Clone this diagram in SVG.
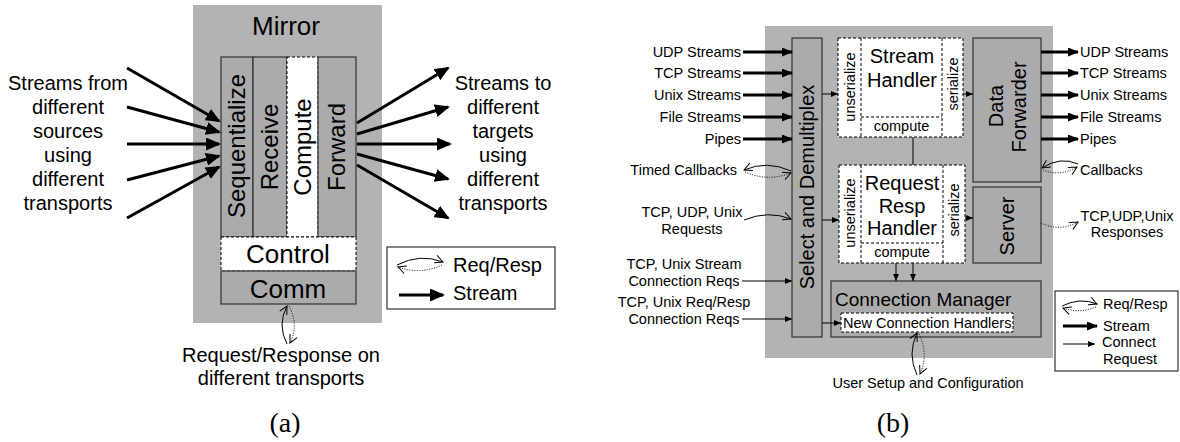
<svg xmlns="http://www.w3.org/2000/svg" width="1180" height="442" viewBox="0 0 1180 442">
<style>
.t{font-family:"Liberation Sans",Arial,sans-serif;fill:#000}
.s20{font-size:20px}.s26{font-size:26px}.s24{font-size:24px}.s14{font-size:14.5px}.s19{font-size:19px}
.m{text-anchor:middle}.e{text-anchor:end}
.cap{font-family:"Liberation Serif","Times New Roman",serif;font-size:28px;text-anchor:middle}
.bg{fill:#b3b3b3}
.box{fill:#ababab;stroke:#333;stroke-width:1.2}
.dbox{fill:#fff;stroke:#000;stroke-width:1;stroke-dasharray:3 2}
.lg{fill:#fff;stroke:#333;stroke-width:1.2}
.thick{stroke:#000;stroke-width:3;fill:none}
.thin{stroke:#000;stroke-width:1;fill:none}
.dot{stroke:#000;stroke-width:1;stroke-dasharray:1 1.5;fill:none}
</style>
<defs>
<marker id="hA" markerUnits="userSpaceOnUse" markerWidth="15" markerHeight="13" viewBox="0 0 15 13" refX="13" refY="6.5" orient="auto"><path d="M0,0 L15,6.5 L0,13 z"/></marker>
<marker id="hB" markerUnits="userSpaceOnUse" markerWidth="11" markerHeight="9" viewBox="0 0 11 9" refX="10" refY="4.5" orient="auto"><path d="M0,0 L11,4.5 L0,9 z"/></marker>
<marker id="hC" markerUnits="userSpaceOnUse" markerWidth="7" markerHeight="6" viewBox="0 0 7 6" refX="7" refY="3" orient="auto"><path d="M0,0 L7,3 L0,6 z"/></marker>
<marker id="hO" markerUnits="userSpaceOnUse" markerWidth="9" markerHeight="8" viewBox="0 0 9 8" refX="8" refY="4" orient="auto" overflow="visible"><path d="M0,0 L8,4 L0,8" fill="none" stroke="#000" stroke-width="1"/></marker>
</defs>
<rect width="1180" height="442" fill="#fff"/>

<!-- ============ (a) ============ -->
<g id="mirror">
<rect class="bg" x="193" y="5" width="189" height="318"/>
<text class="t s26 m" x="286" y="35">Mirror</text>
</g>
<g id="sequentialize">
<rect class="box" x="221" y="57" width="32" height="180"/>
<text class="t s24 m" x="237" y="146" dy="0.35em" transform="rotate(-90 237 146)">Sequentialize</text>
</g>
<g id="receive">
<rect class="box" x="253" y="57" width="34" height="180"/>
<text class="t s24 m" x="270" y="147" dy="0.35em" transform="rotate(-90 270 147)">Receive</text>
</g>
<g id="compute">
<rect class="dbox" x="287" y="57" width="31" height="180"/>
<text class="t s24 m" x="302.5" y="147" dy="0.35em" transform="rotate(-90 302.5 147)">Compute</text>
</g>
<g id="forward">
<rect class="box" x="318" y="57" width="38" height="180"/>
<text class="t s24 m" x="337" y="147" dy="0.35em" transform="rotate(-90 337 147)">Forward</text>
</g>
<g id="control">
<rect class="dbox" x="221" y="237" width="135" height="34"/>
<text class="t s26 m" x="288" y="263">Control</text>
</g>
<g id="comm">
<rect class="box" x="221" y="271" width="135" height="33"/>
<text class="t s26 m" x="288" y="298">Comm</text>
</g>
<g id="src-label">
<text class="t s20 m" x="68" y="90">Streams from</text>
<text class="t s20 m" x="68" y="114">different</text>
<text class="t s20 m" x="68" y="138">sources</text>
<text class="t s20 m" x="68" y="162">using</text>
<text class="t s20 m" x="68" y="186">different</text>
<text class="t s20 m" x="68" y="210">transports</text>
</g>
<g id="dst-label">
<text class="t s20 m" x="503" y="90">Streams to</text>
<text class="t s20 m" x="503" y="114">different</text>
<text class="t s20 m" x="503" y="138">targets</text>
<text class="t s20 m" x="503" y="162">using</text>
<text class="t s20 m" x="503" y="186">different</text>
<text class="t s20 m" x="503" y="210">transports</text>
</g>
<g id="rr-label-a">
<text class="t s20 m" x="281" y="362">Request/Response on</text>
<text class="t s20 m" x="281" y="385">different transports</text>
</g>
<g id="legend-a">
<rect class="lg" x="387" y="247" width="168" height="62"/>
<path class="thin" d="M397,265 Q420,253 443,262" marker-end="url(#hO)"/>
<path class="dot" d="M442,265 Q420,275 398,267" marker-end="url(#hO)"/>
<text class="t s20" x="453" y="272">Req/Resp</text>
<line class="thick" x1="399" y1="295" x2="443" y2="295" marker-end="url(#hA)"/>
<text class="t s20" x="453" y="300">Stream</text>
</g>
<text class="cap" x="285" y="432">(a)</text>

<!-- ============ (b) ============ -->
<rect class="bg" x="765" y="26" width="288" height="332"/>
<g id="select-demux">
<rect class="box" x="792" y="38" width="30" height="299"/>
<text class="t s20 m" x="807" y="187" dy="0.35em" transform="rotate(-90 807 187)">Select and Demultiplex</text>
</g>
<g id="stream-handler">
<rect class="dbox" x="838" y="38" width="125" height="99"/>
<line class="thin" x1="861" y1="38" x2="861" y2="137" stroke-dasharray="3 2"/>
<line class="thin" x1="942" y1="38" x2="942" y2="137" stroke-dasharray="3 2"/>
<line class="thin" x1="861" y1="117" x2="942" y2="117" stroke-dasharray="3 2"/>
<text class="t s20 m" x="902" y="63">Stream</text>
<text class="t s20 m" x="902" y="87">Handler</text>
<text class="t s14 m" x="850" y="87" dy="0.35em" transform="rotate(-90 850 87)">unserialize</text>
<text class="t s14 m" x="952.5" y="84" dy="0.35em" transform="rotate(-90 952.5 84)">serialize</text>
<text class="t s14 m" x="901.5" y="131">compute</text>
</g>
<g id="reqresp-handler">
<rect class="dbox" x="839" y="165" width="126" height="98"/>
<line class="thin" x1="861" y1="165" x2="861" y2="263" stroke-dasharray="3 2"/>
<line class="thin" x1="943" y1="165" x2="943" y2="263" stroke-dasharray="3 2"/>
<line class="thin" x1="861" y1="243" x2="943" y2="243" stroke-dasharray="3 2"/>
<text class="t s20 m" x="902" y="190">Request</text>
<text class="t s20 m" x="902" y="213">Resp</text>
<text class="t s20 m" x="902" y="235">Handler</text>
<text class="t s14 m" x="850" y="213" dy="0.35em" transform="rotate(-90 850 213)">unserialize</text>
<text class="t s14 m" x="954" y="210" dy="0.35em" transform="rotate(-90 954 210)">serialize</text>
<text class="t s14 m" x="902" y="257">compute</text>
</g>
<g id="data-forwarder">
<rect class="box" x="973" y="38" width="68" height="144"/>
<text class="t s20 m" x="996" y="106" dy="0.35em" transform="rotate(-90 996 106)">Data</text>
<text class="t s20 m" x="1019" y="107" dy="0.35em" transform="rotate(-90 1019 107)">Forwarder</text>
</g>
<g id="server">
<rect class="box" x="973" y="187" width="68" height="76"/>
<text class="t s20 m" x="1007" y="226" dy="0.35em" transform="rotate(-90 1007 226)">Server</text>
</g>
<g id="connection-manager">
<rect class="box" x="831" y="281" width="210" height="56"/>
<text class="t s19" x="835" y="306">Connection Manager</text>
<rect class="dbox" x="841" y="313" width="172" height="19"/>
<text class="t s14" x="843" y="328">New Connection Handlers</text>
</g>
<g id="inputs">
<text class="t s14 e" x="741" y="57">UDP Streams</text>
<text class="t s14 e" x="741" y="78">TCP Streams</text>
<text class="t s14 e" x="741" y="100">Unix Streams</text>
<text class="t s14 e" x="741" y="122">File Streams</text>
<text class="t s14 e" x="741" y="144">Pipes</text>
<text class="t s14 e" x="737" y="175">Timed Callbacks</text>
<text class="t s14 m" x="692" y="217">TCP, UDP, Unix</text>
<text class="t s14 m" x="692" y="234">Requests</text>
<text class="t s14 m" x="684" y="269">TCP, Unix Stream</text>
<text class="t s14 m" x="684" y="286">Connection Reqs</text>
<text class="t s14 m" x="684" y="307">TCP, Unix Req/Resp</text>
<text class="t s14 m" x="684" y="324">Connection Reqs</text>
</g>
<g id="outputs">
<text class="t s14" x="1080" y="57">UDP Streams</text>
<text class="t s14" x="1080" y="78">TCP Streams</text>
<text class="t s14" x="1080" y="100">Unix Streams</text>
<text class="t s14" x="1080" y="122">File Streams</text>
<text class="t s14" x="1080" y="144">Pipes</text>
<text class="t s14" x="1080" y="175">Callbacks</text>
<text class="t s14 m" x="1127" y="221">TCP,UDP,Unix</text>
<text class="t s14 m" x="1127" y="237">Responses</text>
</g>
<g id="user-setup">
<text class="t s14 m" x="928" y="388">User Setup and Configuration</text>
</g>
<g id="legend-b">
<rect class="lg" x="1055" y="291" width="123" height="80"/>
<path class="thin" d="M1062,306 Q1080,297 1097,304" marker-end="url(#hO)"/>
<path class="dot" d="M1096,307 Q1080,314 1063,308" marker-end="url(#hO)"/>
<text class="t s14" x="1103" y="309">Req/Resp</text>
<line class="thick" x1="1063" y1="326" x2="1097" y2="326" marker-end="url(#hB)"/>
<text class="t s14" x="1103" y="331">Stream</text>
<line class="thin" x1="1063" y1="344" x2="1095" y2="344" marker-end="url(#hC)"/>
<text class="t s14" x="1102" y="347">Connect</text>
<text class="t s14" x="1103" y="364">Request</text>
</g>
<text class="cap" x="893" y="432">(b)</text>

<!-- ============ connectors ============ -->
<g id="connectors">
<line class="thick" x1="127" y1="68" x2="219" y2="121" marker-end="url(#hA)"/>
<line class="thick" x1="127" y1="107" x2="219" y2="132" marker-end="url(#hA)"/>
<line class="thick" x1="127" y1="144" x2="219" y2="144" marker-end="url(#hA)"/>
<line class="thick" x1="127" y1="180" x2="219" y2="156" marker-end="url(#hA)"/>
<line class="thick" x1="127" y1="218" x2="219" y2="167" marker-end="url(#hA)"/>
<line class="thick" x1="357" y1="123" x2="448" y2="68" marker-end="url(#hA)"/>
<line class="thick" x1="357" y1="134" x2="448" y2="107" marker-end="url(#hA)"/>
<line class="thick" x1="357" y1="144" x2="450" y2="144" marker-end="url(#hA)"/>
<line class="thick" x1="357" y1="154" x2="448" y2="179" marker-end="url(#hA)"/>
<line class="thick" x1="357" y1="165" x2="448" y2="218" marker-end="url(#hA)"/>
<path class="thin" d="M287,344 Q277,325 287,306" marker-end="url(#hO)"/>
<path class="dot" d="M289,306 Q299,325 290,343" marker-end="url(#hO)"/>

<line class="thick" x1="743" y1="52" x2="792" y2="52" marker-end="url(#hB)"/>
<line class="thick" x1="743" y1="73" x2="792" y2="73" marker-end="url(#hB)"/>
<line class="thick" x1="743" y1="95" x2="792" y2="95" marker-end="url(#hB)"/>
<line class="thick" x1="743" y1="117" x2="792" y2="117" marker-end="url(#hB)"/>
<line class="thick" x1="743" y1="139" x2="792" y2="139" marker-end="url(#hB)"/>
<line class="thick" x1="1041" y1="52" x2="1078" y2="52" marker-end="url(#hB)"/>
<line class="thick" x1="1041" y1="73" x2="1078" y2="73" marker-end="url(#hB)"/>
<line class="thick" x1="1041" y1="95" x2="1078" y2="95" marker-end="url(#hB)"/>
<line class="thick" x1="1041" y1="117" x2="1078" y2="117" marker-end="url(#hB)"/>
<line class="thick" x1="1041" y1="139" x2="1078" y2="139" marker-end="url(#hB)"/>
<path class="thin" d="M791,171 Q767,160 744,170" marker-end="url(#hO)"/>
<path class="dot" d="M745,172 Q768,182 791,173" marker-end="url(#hO)"/>
<path class="thin" d="M744,220 Q768,210 791,219" marker-end="url(#hO)"/>
<line class="thin" x1="742" y1="281" x2="792" y2="281" marker-end="url(#hC)"/>
<line class="thin" x1="742" y1="319" x2="792" y2="319" marker-end="url(#hC)"/>
<line class="thin" x1="822" y1="94" x2="838" y2="94" marker-end="url(#hC)"/>
<line class="thin" x1="963" y1="94" x2="973" y2="94" marker-end="url(#hC)"/>
<line class="thin" x1="822" y1="220" x2="839" y2="220" marker-end="url(#hC)"/>
<line class="thin" x1="965" y1="218" x2="973" y2="218" marker-end="url(#hC)"/>
<line class="thin" x1="913" y1="137" x2="913" y2="165"/>
<line class="thin" x1="896" y1="263" x2="896" y2="281" marker-end="url(#hC)"/>
<line class="thin" x1="913" y1="263" x2="913" y2="281" marker-end="url(#hC)"/>
<line class="thin" x1="822" y1="323" x2="841" y2="323" marker-end="url(#hC)"/>
<path class="thin" d="M1078,164 Q1060,156 1042,168" marker-end="url(#hO)"/>
<path class="dot" d="M1043,170 Q1060,177 1077,167" marker-end="url(#hO)"/>
<path class="dot" d="M1041,223 Q1060,232 1078,222" marker-end="url(#hO)"/>
<path class="thin" d="M917,375 Q907,354 917,333" marker-end="url(#hO)"/>
<path class="dot" d="M919,334 Q929,354 920,374" marker-end="url(#hO)"/>
</g>
</svg>
